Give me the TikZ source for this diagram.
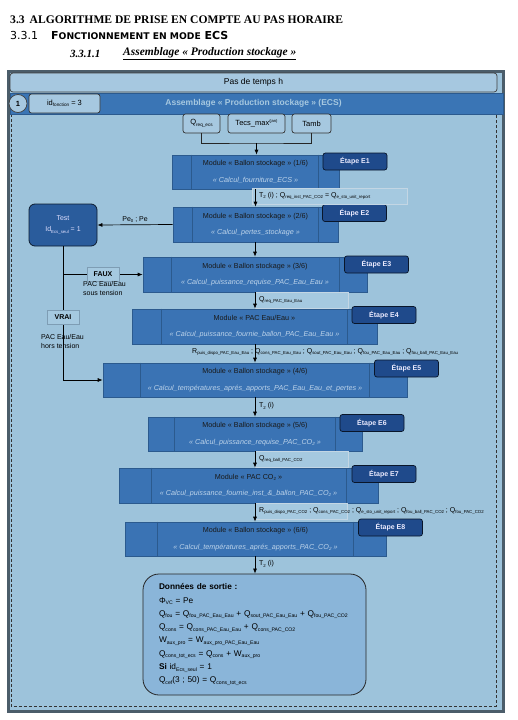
\documentclass[tikz,border=0pt]{standalone}
\usepackage{fontspec}
\setmainfont{Liberation Sans}
\newfontfamily\serif{Liberation Serif}
\newfontfamily\titresans{DejaVu Sans}
\usetikzlibrary{arrows.meta,positioning}

\definecolor{fondbleu}{HTML}{9DC3DB}
\definecolor{cadre}{HTML}{4B5D6A}
\definecolor{bande}{HTML}{3A75B5}
\definecolor{module}{HTML}{3A73B4}
\definecolor{bordmod}{HTML}{2B5A8E}
\definecolor{etape}{HTML}{1F4A8B}
\definecolor{clair}{HTML}{A6C8E0}
\definecolor{soustitre}{HTML}{BCD3EA}
\definecolor{sortie}{HTML}{8AB5D9}
\definecolor{etiqfond}{HTML}{A5C9E0}
\definecolor{etiqbord}{HTML}{C3D6E4}
\definecolor{choixbord}{HTML}{7E9DB4}
\definecolor{testfond}{HTML}{2A5C9C}

\makeatletter
\newcommand{\ind}[1]{\raisebox{-0.35ex}{\fontsize{\fpeval{0.62*\f@size}}{1}\selectfont #1}}
\newcommand{\expo}[1]{\raisebox{0.7ex}{\fontsize{\fpeval{0.55*\f@size}}{1}\selectfont #1}}
\makeatother
\newcommand{\sstitre}[1]{{\color{soustitre}\itshape #1}}

\begin{document}
\begin{tikzpicture}[x=1pt,y=-1pt,
    fleche/.style={-{Latex[length=5pt,width=4pt]},black,line width=0.7pt},
    trait/.style={black!85,line width=0.7pt},
    modbox/.style={draw=bordmod,fill=module,line width=0.6pt,inner sep=0pt,align=center,
      font=\fontsize{7.2}{16.5}\selectfont,text=black!90},
    modligne/.style={draw=bordmod,line width=0.6pt},
    etapebox/.style={draw=black!70!etape,fill=etape,rounded corners=2.5pt,line width=0.7pt,
      minimum width=64,minimum height=17,inner sep=0pt,text=white!92!blue,
      font=\fontsize{7}{8}\selectfont\bfseries},
    entree/.style={draw=black!80,fill=clair,rounded corners=2.5pt,line width=0.7pt,
      minimum height=19,inner sep=0pt,font=\fontsize{7.5}{8}\selectfont},
    etiqbox/.style={draw=etiqbord,fill=etiqfond,line width=0.5pt,minimum height=16,inner sep=0pt},
    etiq/.style={anchor=west,inner sep=0pt,font=\fontsize{7}{8}\selectfont},
    choix/.style={draw=choixbord,fill=etiqfond,line width=0.5pt,minimum width=32,minimum height=14,
      inner sep=0pt,font=\fontsize{7}{8}\selectfont\bfseries},
    commentaire/.style={anchor=west,align=left,inner sep=0pt,font=\fontsize{7}{9}\selectfont}]
\useasboundingbox (0,0) rectangle (518,720);

% titres
\node[anchor=west,inner sep=0pt] (titre) at (10,20) {\serif\bfseries\fontsize{11.6}{13}\selectfont 3.3\hspace{5pt}ALGORITHME DE PRISE EN COMPTE AU PAS HORAIRE};
\node[anchor=west,inner sep=0pt] (soustitre) at (10,35.5) {\titresans\fontsize{11}{12}\selectfont 3.3.1\hspace{13pt}\bfseries F{\fontsize{9.2}{10}\selectfont ONCTIONNEMENT EN MODE} ECS};
\node[anchor=west,inner sep=0pt] (num) at (70,54) {\serif\bfseries\itshape\fontsize{11}{13}\selectfont 3.3.1.1};
\node[anchor=west,inner sep=0pt] (assemblage) at (123,54) {\serif\bfseries\itshape\fontsize{11.5}{13}\selectfont\underline{Assemblage « Production stockage »}};

% cadre
\draw[cadre,line width=3pt,fill=fondbleu] (8.5,71) rectangle (503.5,711.5);
\draw[black!80,dashed,dash pattern=on 3pt off 2pt,line width=0.6pt] (11,114) -- (11,706) -- (496,706) -- (496,114);
\node[draw=black!75,fill=clair,rounded corners=3pt,line width=0.7pt,minimum width=487,minimum height=19,inner sep=0pt,font=\fontsize{8.5}{9}\selectfont] (pas) at (253.5,82.5) {Pas de temps h};
\node[draw=bordmod,fill=bande,line width=0.6pt,minimum width=493,minimum height=21,inner sep=0pt,text=clair,font=\fontsize{8.5}{9}\selectfont\bfseries] (bandeau) at (256.5,103.5) {\hspace{-6pt}Assemblage « Production stockage » (ECS)};
\node[circle,draw=black!75,fill=clair,line width=0.7pt,minimum size=18,inner sep=0pt,font=\fontsize{7.5}{8}\selectfont\bfseries] (un) at (18,103.5) {1};
\node[entree,minimum width=71] (idf) at (64.5,103.5) {id\ind{fonction} = 3};

% entrees
\node[entree,minimum width=37] (qreq) at (201.5,123.5) {Q\ind{req\_ecs}};
\node[entree,minimum width=57] (tecs) at (256.5,123.5) {Tecs\_max\expo{(jan)}};
\node[entree,minimum width=39] (tamb) at (311.5,123.5) {Tamb};
\coordinate (jonction) at (256.5,143);
\draw[trait] (qreq.south) |- (jonction) -| (tamb.south);

% modules
\node[modbox,minimum width=167,minimum height=34] (m1) at (255.5,172) {Module « Ballon stockage » (1/6)\\\sstitre{« Calcul\_fourniture\_ECS »}};
\draw[modligne] ([xshift=20]m1.north west) -- ([xshift=20]m1.south west);
\draw[modligne] ([xshift=-21]m1.north east) -- ([xshift=-21]m1.south east);

\node[modbox,minimum width=165,minimum height=35] (m2) at (255.5,224.5) {Module « Ballon stockage » (2/6)\\\sstitre{« Calcul\_pertes\_stockage »}};
\draw[modligne] ([xshift=20]m2.north west) -- ([xshift=20]m2.south west);
\draw[modligne] ([xshift=-20]m2.north east) -- ([xshift=-20]m2.south east);

\node[modbox,minimum width=224,minimum height=35] (m3) at (255,274.5) {Module « Ballon stockage » (3/6)\\\sstitre{« Calcul\_puissance\_requise\_PAC\_Eau\_Eau »}};
\draw[modligne] ([xshift=29]m3.north west) -- ([xshift=29]m3.south west);
\draw[modligne] ([xshift=-28]m3.north east) -- ([xshift=-28]m3.south east);

\node[modbox,minimum width=245,minimum height=35] (m4) at (254.5,326.5) {Module « PAC Eau/Eau »\\\sstitre{« Calcul\_puissance\_fournie\_ballon\_PAC\_Eau\_Eau »}};
\draw[modligne] ([xshift=30]m4.north west) -- ([xshift=30]m4.south west);
\draw[modligne] ([xshift=-30]m4.north east) -- ([xshift=-30]m4.south east);

\node[modbox,minimum width=304,minimum height=34] (m5) at (255,380) {Module « Ballon stockage » (4/6)\\\sstitre{« Calcul\_températures\_aprés\_apports\_PAC\_Eau\_Eau\_et\_pertes »}};
\draw[modligne] ([xshift=38]m5.north west) -- ([xshift=38]m5.south west);
\draw[modligne] ([xshift=-38]m5.north east) -- ([xshift=-38]m5.south east);

\node[modbox,minimum width=214,minimum height=34] (m6) at (255,434) {Module « Ballon stockage » (5/6)\\\sstitre{« Calcul\_puissance\_requise\_PAC\_CO\ind{2} »}};
\draw[modligne] ([xshift=27]m6.north west) -- ([xshift=27]m6.south west);
\draw[modligne] ([xshift=-27]m6.north east) -- ([xshift=-27]m6.south east);

\node[modbox,minimum width=259,minimum height=35] (m7) at (248.5,485.5) {Module « PAC CO\ind{2} »\\\sstitre{« Calcul\_puissance\_fournie\_inst\_\&\_ballon\_PAC\_CO\ind{2} »}};
\draw[modligne] ([xshift=33]m7.north west) -- ([xshift=33]m7.south west);
\draw[modligne] ([xshift=-32]m7.north east) -- ([xshift=-32]m7.south east);

\node[modbox,minimum width=261,minimum height=34] (m8) at (255.5,539) {Module « Ballon stockage » (6/6)\\\sstitre{« Calcul\_températures\_aprés\_apports\_PAC\_CO\ind{2} »}};
\draw[modligne] ([xshift=33]m8.north west) -- ([xshift=33]m8.south west);
\draw[modligne] ([xshift=-33]m8.north east) -- ([xshift=-33]m8.south east);

% etapes
\node[etapebox] (e1) at (355,161.5) {Étape E1};
\node[etapebox] (e2) at (354.5,213) {Étape E2};
\node[etapebox] (e3) at (376.5,264.5) {Étape E3};
\node[etapebox] (e4) at (384,315) {Étape E4};
\node[etapebox] (e5) at (406.5,368.5) {Étape E5};
\node[etapebox] (e6) at (372,423) {Étape E6};
\node[etapebox] (e7) at (384,474) {Étape E7};
\node[etapebox] (e8) at (390.5,527.5) {Étape E8};

% donnees de sortie
\node[draw=black!85,fill=sortie,rounded corners=16pt,line width=0.8pt,minimum width=223,minimum height=121,
  text width=191,inner xsep=16pt,align=left,font=\fontsize{8.3}{13.3}\selectfont] (sortie) at (254.5,634.5)
  {\textbf{Données de sortie :}\\
   Φ\ind{VC} = Pe\\
   Q\ind{fou} = Q\ind{fou\_PAC\_Eau\_Eau} + Q\ind{sout\_PAC\_Eau\_Eau} + Q\ind{fou\_PAC\_CO2}\\
   Q\ind{cons} = Q\ind{cons\_PAC\_Eau\_Eau} + Q\ind{cons\_PAC\_CO2}\\
   W\ind{aux\_pro} = W\ind{aux\_pro\_PAC\_Eau\_Eau}\\
   Q\ind{cons\_tot\_ecs} = Q\ind{cons} + W\ind{aux\_pro}\\
   \textbf{Si} id\ind{Ecs\_seul} = 1\\
   Q\ind{cef}(3 ; 50) = Q\ind{cons\_tot\_ecs}};

% etiquettes des liaisons
\node[etiqbox,minimum width=155] (l1) at (329.5,196) {};
\node[etiqbox,minimum width=93] (l3) at (301.5,300) {};
\node[etiqbox,minimum width=93] (l6) at (301.5,459) {};
\node[etiqbox,minimum width=92] (l7) at (301,511) {};

% liaisons
\draw[fleche] (tecs.south |- jonction) -- (tecs.south |- m1.north);
\draw[fleche] (m1.south) -- (m2.north);
\draw[fleche] (m2.south -| m3.north) -- (m3.north);
\draw[fleche] (m3.south) -- (m3.south |- m4.north);
\draw[fleche] (m3.south |- m4.south) -- (m5.north);
\draw[fleche] (m5.south) -- (m6.north);
\draw[fleche] (m6.south) -- (m6.south |- m7.north);
\draw[fleche] (m6.south |- m7.south) -- (m8.north -| m6.south);
\draw[fleche] (m6.south |- m8.south) -- (sortie.north -| m6.south);

\node[etiq] (t1) at (259,196) {T\ind{2} (i) ; Q\ind{req\_inst\_PAC\_CO2} = Q\ind{e\_sto\_unit\_report}};
\node[etiq] (t3) at (259,300) {Q\ind{req\_PAC\_Eau\_Eau}};
\node[etiq] (t4) at (192,352) {R\ind{puis\_dispo\_PAC\_Eau\_Eau} ; Q\ind{cons\_PAC\_Eau\_Eau} ; Q\ind{sout\_PAC\_Eau\_Eau} ; Q\ind{fou\_PAC\_Eau\_Eau} ; Q\ind{fou\_ball\_PAC\_Eau\_Eau}};
\node[etiq] (t5) at (259,406) {T\ind{2} (i)};
\node[etiq] (t6) at (259,459) {Q\ind{req\_ball\_PAC\_CO2}};
\node[etiq] (t7) at (259,511) {R\ind{puis\_dispo\_PAC\_CO2} ; Q\ind{cons\_PAC\_CO2} ; Q\ind{e\_sto\_unit\_report} ; Q\ind{fou\_ball\_PAC\_CO2} ; Q\ind{fou\_PAC\_CO2}};
\node[etiq] (t8) at (259,564) {T\ind{2} (i)};

% test
\node[draw=black!70!testfond,fill=testfond,rounded corners=6pt,line width=0.8pt,minimum width=68,minimum height=42,
  inner sep=0pt,align=center,text=white!88!blue,font=\fontsize{7}{11}\selectfont] (test) at (63,225) {Test\\Id\ind{Ecs\_seul} = 1};
\draw[fleche] (m2.west) -- node[above,font=\fontsize{7}{8}\selectfont,inner sep=2pt] (pe) {Pe\ind{0} ; Pe} (test.east);
\draw[fleche] (test.south) |- (m5.west);
\draw[fleche] (test.south |- m3.west) -- (m3.west);
\node[choix] (faux) at (103,274) {FAUX};
\node[choix] (vrai) at (63,317.5) {VRAI};
\node[commentaire] (sous) at (83,288) {PAC Eau/Eau\\sous tension};
\node[commentaire] (hors) at (41,341) {PAC Eau/Eau\\hors tension};

\end{tikzpicture}
\end{document}
